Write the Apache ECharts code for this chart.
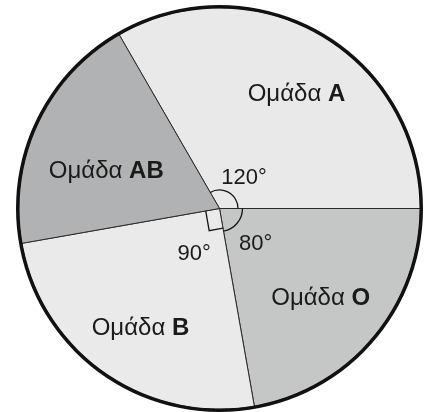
<!DOCTYPE html>
<html><head><meta charset="utf-8">
<script src="https://cdn.jsdelivr.net/npm/echarts@6/dist/echarts.min.js"></script>
<style>html,body{margin:0;padding:0;background:#fff}#c{width:424px;height:412px}</style>
</head><body><div id="c"></div>
<script>
// ---- data ----
const groups = ['A', 'O', 'B', 'AB'];
const degrees = [120, 80, 90, 70];
const groupWord = 'Ομάδα';
const annotatedAngles = ['A', 'O', 'B'];

// ---- style ----
const colors = {A: '#e9e9e9', O: '#c5c6c6', B: '#eaeaea', AB: '#b1b2b3'};
const CENTER = [219.5, 208.5];
const FONT = '"Liberation Sans", Arial, sans-serif';
const nameNudge = {A: [4.5, 2], O: [-1.5, 1], B: [-0.5, 4], AB: [5, 10]};
const angleNudge = {A: [-0.5, 7], O: [-1.5, 1.5], B: [2, 2]};
const markStyle = {A: {kind: 'arc', r: 18.5}, O: {kind: 'arc', r: 23}, B: {kind: 'right', legStart: 20, legEnd: 14}};

const chart = echarts.init(document.getElementById('c'), null, {renderer: 'canvas'});
const clear = 'rgba(0,0,0,0)';

const mainData = groups.map((g, i) => ({name: g, value: degrees[i], itemStyle: {color: colors[g]}}));
const ghostData = groups.map((g, i) => ({name: g, value: degrees[i]}));

const ghostBase = {
  type: 'pie', center: CENTER, startAngle: 120, clockwise: true, silent: true,
  animation: false, itemStyle: {color: clear, borderWidth: 0}, labelLine: {show: false},
  emphasis: {disabled: true}
};

chart.setOption({
  backgroundColor: '#fff',
  animation: false,
  series: [
    {
      type: 'pie', center: CENTER, radius: 201, startAngle: 120, clockwise: true,
      silent: true, animation: false, label: {show: false}, labelLine: {show: false},
      itemStyle: {borderColor: '#2a2a2a', borderWidth: 1},
      emphasis: {disabled: true},
      data: mainData
    },
    Object.assign({}, ghostBase, {
      radius: [66, 200],
      data: ghostData,
      label: {
        show: true, position: 'inside',
        formatter: p => '{n|' + groupWord + ' }{b|' + p.name + '}',
        rich: {
          n: {fontFamily: FONT, fontSize: 24, color: '#1a1a1a'},
          b: {fontFamily: FONT, fontSize: 24, fontWeight: 'bold', color: '#1a1a1a'}
        }
      },
      labelLayout: p => {
        const o = nameNudge[groups[p.dataIndex]];
        return {dx: o[0], dy: o[1]};
      }
    }),
    Object.assign({}, ghostBase, {
      radius: [0, 96],
      data: ghostData,
      label: {
        show: true, position: 'inside', fontFamily: FONT, fontSize: 22, color: '#1a1a1a',
        formatter: p => annotatedAngles.indexOf(p.name) >= 0 ? p.value + '°' : ''
      },
      labelLayout: p => {
        const o = angleNudge[groups[p.dataIndex]] || [0, 0];
        return {dx: o[0], dy: o[1]};
      }
    }),
    {
      type: 'pie', center: CENTER, radius: [200, 203.5], silent: true, animation: false,
      label: {show: false}, labelLine: {show: false}, emphasis: {disabled: true},
      itemStyle: {color: '#111', borderWidth: 0},
      data: [{name: 'rim', value: 1}]
    }
  ]
});

// angle marks drawn from the pie's own computed layout
const pieData = chart.getModel().getSeriesByIndex(0).getData();
const elements = [];
groups.forEach((g, i) => {
  const m = markStyle[g];
  if (!m) return;
  const L = pieData.getItemLayout(i);
  const cx = L.cx, cy = L.cy;
  if (m.kind === 'arc') {
    elements.push({
      type: 'arc', silent: true, z: 100,
      shape: {cx, cy, r: m.r, startAngle: L.startAngle, endAngle: L.endAngle, clockwise: true},
      style: {stroke: '#151515', lineWidth: 1.3, fill: null}
    });
  } else {
    const us = [Math.cos(L.startAngle), Math.sin(L.startAngle)];
    const ue = [Math.cos(L.endAngle), Math.sin(L.endAngle)];
    const p1 = [cx + ue[0] * m.legEnd, cy + ue[1] * m.legEnd];
    const p2 = [p1[0] + us[0] * m.legStart, p1[1] + us[1] * m.legStart];
    const p3 = [cx + us[0] * m.legStart, cy + us[1] * m.legStart];
    elements.push({
      type: 'polyline', silent: true, z: 100,
      shape: {points: [p1, p2, p3]},
      style: {stroke: '#151515', lineWidth: 1.3, fill: null}
    });
  }
});
chart.setOption({graphic: {elements}});
</script>
</body></html>
